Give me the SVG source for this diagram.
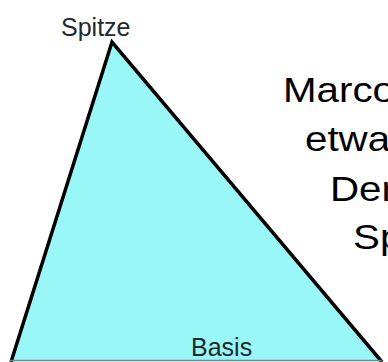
<svg xmlns="http://www.w3.org/2000/svg" width="388" height="362" viewBox="0 0 388 362">
<style>
.lbl{font-family:"Liberation Sans",Arial,sans-serif;font-size:25px;fill:#1e2a2a}
.big{font-family:"Liberation Sans",Arial,sans-serif;font-size:36px;fill:#000}
</style>
<rect width="388" height="362" fill="#fff"/>
<g id="triangle">
<polygon points="112,42 382,361 11,361" fill="#9af7f7" stroke="none"/>
<polyline points="11,362 112,42 382,362" fill="none" stroke="#000" stroke-width="3.5" stroke-linejoin="miter"/>
<line x1="10" y1="360.5" x2="382" y2="360.5" stroke="#6a8a8a" stroke-width="1.5"/>
</g>
<g id="label-spitze"><text class="lbl" x="61" y="36">Spitze</text></g>
<g id="label-basis"><text class="lbl" x="191" y="356">Basis</text></g>
<g id="caption" transform="scale(1.12,1)">
<text class="big" x="252.7" y="102">Marco</text>
<text class="big" x="272.3" y="151">etwa</text>
<text class="big" x="294.6" y="201">Der</text>
<text class="big" x="315.2" y="249">Sp</text>
</g>
</svg>
